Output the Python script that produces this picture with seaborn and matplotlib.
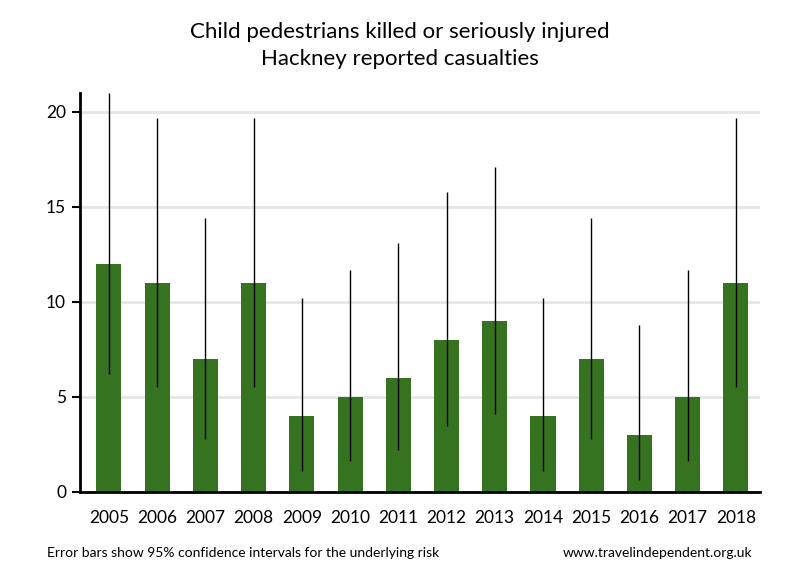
import matplotlib
matplotlib.use("Agg")
import matplotlib.pyplot as plt
import seaborn as sns
import pandas as pd

# Data
years = ['2005', '2006', '2007', '2008', '2009', '2010', '2011',
         '2012', '2013', '2014', '2015', '2016', '2017', '2018']
casualties = [12, 11, 7, 11, 4, 5, 6, 8, 9, 4, 7, 3, 5, 11]
ci_low = [6.2, 5.5, 2.8, 5.5, 1.1, 1.6, 2.2, 3.45, 4.1, 1.1, 2.8, 0.6, 1.6, 5.5]
ci_high = [21.0, 19.7, 14.4, 19.7, 10.2, 11.7, 13.1, 15.8, 17.1, 10.2, 14.4, 8.8, 11.7, 19.7]

df = pd.DataFrame({'Year': years, 'KSI': casualties})

sns.set_style('white')
plt.rcParams['font.family'] = ['Lato', 'DejaVu Sans']
plt.rcParams['text.color'] = 'black'
plt.rcParams['xtick.color'] = 'black'
plt.rcParams['ytick.color'] = 'black'

fig = plt.figure(figsize=(8, 5.8), dpi=100)
ax = fig.add_axes([0.1, 0.152, 0.85, 0.688])

sns.barplot(data=df, x='Year', y='KSI', color='#367320', saturation=1,
            width=0.52, linewidth=0, ax=ax, zorder=2)

# confidence intervals - plain vertical lines, no caps
ax.vlines(range(len(years)), ci_low, ci_high, color='black', linewidth=1, zorder=3)

ax.set_ylim(0, 21)
ax.set_xlim(-0.6, 13.5)
ax.set_yticks([0, 5, 10, 15, 20])
ax.yaxis.grid(True, color='#e6e6e6', linewidth=2, zorder=0)
ax.set_axisbelow(True)
ax.set_xlabel('')
ax.set_ylabel('')

for s in ['top', 'right']:
    ax.spines[s].set_visible(False)
for s in ['left', 'bottom']:
    ax.spines[s].set_color('black')
    ax.spines[s].set_linewidth(2)

ax.tick_params(axis='y', length=6, width=1.5, labelsize=12.5, pad=4, left=True,
               colors='black')
ax.tick_params(axis='x', length=0, labelsize=12.5, pad=13, colors='black')

fig.text(0.5, 0.922, 'Child pedestrians killed or seriously injured\nHackney reported casualties',
         ha='center', va='center', fontsize=16, linespacing=1.45, color='black')
fig.text(0.059, 0.046, 'Error bars show 95% confidence intervals for the underlying risk',
         ha='left', va='center', fontsize=10, color='black')
fig.text(0.94, 0.046, 'www.travelindependent.org.uk',
         ha='right', va='center', fontsize=10, color='black')

fig.savefig('out.png', dpi=100)
